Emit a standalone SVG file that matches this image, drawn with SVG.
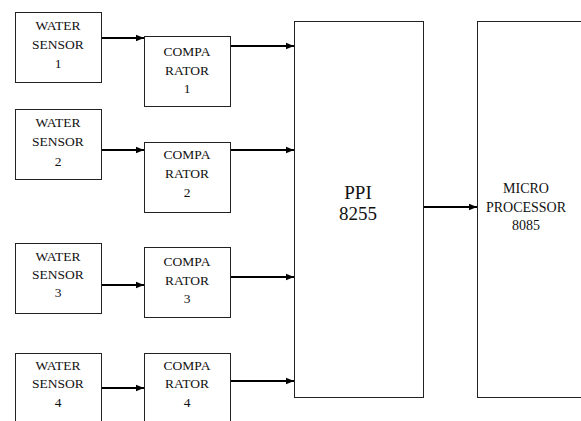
<svg xmlns="http://www.w3.org/2000/svg" width="581" height="421" viewBox="0 0 581 421">
<style>
.box{fill:#fff;stroke:#222;stroke-width:1}
text{font-family:'Liberation Serif','DejaVu Serif','Times New Roman',serif;font-size:13.5px;fill:#111;text-anchor:middle}
.big{font-size:19px}
.mp{font-size:14px}
.c{fill:none;stroke:#000;stroke-width:2}
</style>
<defs>
<marker id="ah" markerUnits="userSpaceOnUse" markerWidth="8" markerHeight="8" viewBox="0 0 8 8" refX="8" refY="4" orient="auto">
<path d="M0,0.8 L8,4 L0,7.2 Z" fill="#000"/>
</marker>
</defs>
<rect width="581" height="421" fill="#fff"/>
<g id="connectors">
<line class="c" x1="101" y1="38" x2="144" y2="38" marker-end="url(#ah)"/>
<line class="c" x1="230" y1="46" x2="294" y2="46" marker-end="url(#ah)"/>
<line class="c" x1="101" y1="150" x2="144" y2="150" marker-end="url(#ah)"/>
<line class="c" x1="230" y1="150" x2="294" y2="150" marker-end="url(#ah)"/>
<line class="c" x1="101" y1="285" x2="144" y2="285" marker-end="url(#ah)"/>
<line class="c" x1="230" y1="277" x2="294" y2="277" marker-end="url(#ah)"/>
<line class="c" x1="101" y1="388" x2="144" y2="388" marker-end="url(#ah)"/>
<line class="c" x1="230" y1="381" x2="294" y2="381" marker-end="url(#ah)"/>
<line class="c" x1="423" y1="207" x2="477" y2="207" marker-end="url(#ah)"/>
</g>
<g id="sensor1"><rect class="box" x="15.5" y="12.5" width="86" height="70"/>
<text x="58" y="30">WATER</text><text x="58" y="49">SENSOR</text><text x="58" y="68">1</text></g>
<g id="sensor2"><rect class="box" x="15.5" y="109.5" width="86" height="70"/>
<text x="58" y="127">WATER</text><text x="58" y="146">SENSOR</text><text x="58" y="166">2</text></g>
<g id="sensor3"><rect class="box" x="15.5" y="243.5" width="86" height="70"/>
<text x="58" y="261">WATER</text><text x="58" y="279">SENSOR</text><text x="58" y="297">3</text></g>
<g id="sensor4"><rect class="box" x="15.5" y="353.5" width="86" height="80"/>
<text x="58" y="370">WATER</text><text x="58" y="388">SENSOR</text><text x="58" y="407">4</text></g>
<g id="comp1"><rect class="box" x="144.5" y="36.5" width="86" height="70"/>
<text x="187" y="56">COMPA</text><text x="187" y="75">RATOR</text><text x="187" y="93">1</text></g>
<g id="comp2"><rect class="box" x="144.5" y="142.5" width="86" height="70"/>
<text x="187" y="159">COMPA</text><text x="187" y="178">RATOR</text><text x="187" y="197">2</text></g>
<g id="comp3"><rect class="box" x="144.5" y="247.5" width="86" height="70"/>
<text x="187" y="266">COMPA</text><text x="187" y="285">RATOR</text><text x="187" y="303">3</text></g>
<g id="comp4"><rect class="box" x="144.5" y="353.5" width="86" height="80"/>
<text x="187" y="370">COMPA</text><text x="187" y="388">RATOR</text><text x="187" y="407">4</text></g>
<g id="ppi"><rect class="box" x="294.5" y="21.5" width="129" height="376"/>
<text class="big" x="358" y="199">PPI</text><text class="big" x="358" y="220">8255</text></g>
<g id="micro"><rect class="box" x="477.5" y="21.5" width="120" height="376"/>
<text class="mp" x="526" y="193">MICRO</text><text class="mp" x="526" y="212">PROCESSOR</text><text class="mp" x="526" y="230">8085</text></g>
</svg>
